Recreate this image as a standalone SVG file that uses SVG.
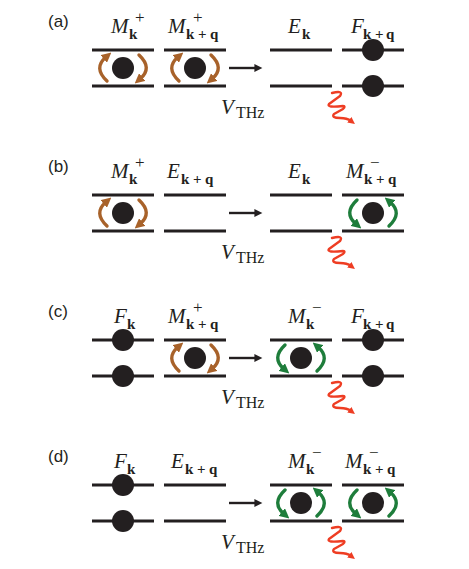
<svg xmlns="http://www.w3.org/2000/svg" xmlns:xlink="http://www.w3.org/1999/xlink" width="469" height="569" viewBox="0 0 469 569">
<style>
.bar{stroke:#231f20;stroke-width:3.2;fill:none}
.ball{fill:#231f20}
.lab{font-family:"Liberation Sans",Arial,sans-serif;font-size:17px;fill:#231f20}
.it{font-family:"Liberation Serif","Times New Roman",serif;font-style:italic;font-size:21px;fill:#231f20}
.bf{font-family:"Liberation Serif","Times New Roman",serif;font-weight:bold;font-size:15px;fill:#231f20}
.sp{font-family:"Liberation Serif","Times New Roman",serif;font-size:17px;fill:#231f20}
.rm{font-family:"Liberation Serif","Times New Roman",serif;font-size:16px;fill:#231f20}
.br{stroke:#a8622a;stroke-width:3.4;fill:none;stroke-linecap:round;marker-end:url(#hb)}
.gr{stroke:#1e7d3b;stroke-width:3.4;fill:none;stroke-linecap:round;marker-end:url(#hg)}
.arr{stroke:#231f20;stroke-width:2.4;fill:none;marker-end:url(#hk)}
.ph{stroke:#ee3d23;stroke-width:2.4;fill:none;stroke-linecap:round;stroke-linejoin:round;marker-end:url(#hr)}
</style>
<defs>
<marker id="hb" viewBox="0 0 10 10" refX="3" refY="5" markerWidth="10" markerHeight="10" markerUnits="userSpaceOnUse" orient="auto"><path d="M0,0 L10,5 L0,10 z" fill="#a8622a"/></marker>
<marker id="hg" viewBox="0 0 10 10" refX="3" refY="5" markerWidth="10" markerHeight="10" markerUnits="userSpaceOnUse" orient="auto"><path d="M0,0 L10,5 L0,10 z" fill="#1e7d3b"/></marker>
<marker id="hk" viewBox="0 0 10 10" refX="2" refY="5" markerWidth="9" markerHeight="8" markerUnits="userSpaceOnUse" orient="auto"><path d="M0,0 L10,5 L0,10 z" fill="#231f20"/></marker>
<marker id="hr" viewBox="0 0 10 10" refX="3" refY="5" markerWidth="7" markerHeight="7" markerUnits="userSpaceOnUse" orient="auto"><path d="M0,0 L10,5 L0,10 z" fill="#ee3d23"/></marker>
<g id="cw">
<circle class="ball" cx="0" cy="0" r="11"/>
<path class="br" d="M-16,13 Q-30,0 -17,-11"/>
<path class="br" d="M16,-13 Q30,0 17,11"/>
</g>
<g id="ccw">
<circle class="ball" cx="0" cy="0" r="11"/>
<path class="gr" d="M-16,-13 Q-30,0 -17,11"/>
<path class="gr" d="M16,13 Q30,0 17,-11"/>
</g>
<g id="bars"><line class="bar" x1="0" y1="0" x2="62" y2="0"/><line class="bar" x1="0" y1="36" x2="62" y2="36"/></g>
<g id="fill2"><circle class="ball" cx="31" cy="0" r="11"/><circle class="ball" cx="31" cy="36" r="11"/></g>
</defs>

<!-- panel (a) -->
<g id="panel-a">
<text class="lab" x="48" y="27">(a)</text>
<g id="a-M-k-plus"><use xlink:href="#bars" x="92" y="50"/><use xlink:href="#cw" x="123" y="68"/>
<text class="it" x="111" y="33">M</text><text class="bf" x="129" y="39">k</text><text class="sp" x="135" y="23">+</text></g>
<g id="a-M-kq-plus"><use xlink:href="#bars" x="164" y="50"/><use xlink:href="#cw" x="195" y="68"/>
<text class="it" x="168" y="33">M</text><text class="bf" x="186 198 210" y="39">k+q</text><text class="sp" x="193" y="23">+</text></g>
<g id="a-E-k"><use xlink:href="#bars" x="270" y="50"/>
<text class="it" x="288" y="33">E</text><text class="bf" x="302" y="39">k</text></g>
<g id="a-F-kq"><use xlink:href="#bars" x="342" y="50"/><use xlink:href="#fill2" x="342" y="50"/>
<text class="it" x="351" y="33">F</text><text class="bf" x="363 375 386" y="39">k+q</text></g>
<g id="a-V"><text class="it" x="221" y="114">V</text><text class="rm" x="236" y="118">THz</text></g>
</g>

<!-- panel (b) -->
<g id="panel-b" transform="translate(0,145)">
<text class="lab" x="48" y="27">(b)</text>
<g id="b-M-k-plus"><use xlink:href="#bars" x="92" y="50"/><use xlink:href="#cw" x="123" y="68"/>
<text class="it" x="111" y="33">M</text><text class="bf" x="129" y="39">k</text><text class="sp" x="135" y="23">+</text></g>
<g id="b-E-kq"><use xlink:href="#bars" x="164" y="50"/>
<text class="it" x="167" y="33">E</text><text class="bf" x="181 193 205" y="39">k+q</text></g>
<g id="b-E-k"><use xlink:href="#bars" x="270" y="50"/>
<text class="it" x="288" y="33">E</text><text class="bf" x="302" y="39">k</text></g>
<g id="b-M-kq-minus"><use xlink:href="#bars" x="342" y="50"/><use xlink:href="#ccw" x="373" y="68"/>
<text class="it" x="346" y="33">M</text><text class="bf" x="364 376 388" y="39">k+q</text><text class="sp" x="370" y="23">−</text></g>
<g id="b-V"><text class="it" x="221" y="114">V</text><text class="rm" x="236" y="118">THz</text></g>
</g>

<!-- panel (c) -->
<g id="panel-c" transform="translate(0,290)">
<text class="lab" x="48" y="27">(c)</text>
<g id="c-F-k"><use xlink:href="#bars" x="92" y="50"/><use xlink:href="#fill2" x="92" y="50"/>
<text class="it" x="114" y="33">F</text><text class="bf" x="127" y="39">k</text></g>
<g id="c-M-kq-plus"><use xlink:href="#bars" x="164" y="50"/><use xlink:href="#cw" x="195" y="68"/>
<text class="it" x="168" y="33">M</text><text class="bf" x="186 198 210" y="39">k+q</text><text class="sp" x="193" y="23">+</text></g>
<g id="c-M-k-minus"><use xlink:href="#bars" x="270" y="50"/><use xlink:href="#ccw" x="301" y="68"/>
<text class="it" x="288" y="33">M</text><text class="bf" x="306" y="39">k</text><text class="sp" x="312" y="23">−</text></g>
<g id="c-F-kq"><use xlink:href="#bars" x="342" y="50"/><use xlink:href="#fill2" x="342" y="50"/>
<text class="it" x="351" y="33">F</text><text class="bf" x="363 375 386" y="39">k+q</text></g>
<g id="c-V"><text class="it" x="221" y="114">V</text><text class="rm" x="236" y="118">THz</text></g>
</g>

<!-- panel (d) -->
<g id="panel-d" transform="translate(0,435)">
<text class="lab" x="48" y="27">(d)</text>
<g id="d-F-k"><use xlink:href="#bars" x="92" y="50"/><use xlink:href="#fill2" x="92" y="50"/>
<text class="it" x="114" y="33">F</text><text class="bf" x="127" y="39">k</text></g>
<g id="d-E-kq"><use xlink:href="#bars" x="164" y="50"/>
<text class="it" x="171" y="33">E</text><text class="bf" x="185 197 209" y="39">k+q</text></g>
<g id="d-M-k-minus"><use xlink:href="#bars" x="270" y="50"/><use xlink:href="#ccw" x="301" y="68"/>
<text class="it" x="288" y="33">M</text><text class="bf" x="306" y="39">k</text><text class="sp" x="312" y="23">−</text></g>
<g id="d-M-kq-minus"><use xlink:href="#bars" x="342" y="50"/><use xlink:href="#ccw" x="373" y="68"/>
<text class="it" x="345" y="33">M</text><text class="bf" x="363 375 387" y="39">k+q</text><text class="sp" x="369" y="23">−</text></g>
<g id="d-V"><text class="it" x="221" y="114">V</text><text class="rm" x="236" y="118">THz</text></g>
</g>

<!-- connectors -->
<g id="connectors">
<path class="arr" d="M229,68 H256"/>
<path class="arr" d="M229,213 H256"/>
<path class="arr" d="M229,358 H256"/>
<path class="arr" d="M229,503 H256"/>
<path class="ph" d="M332,93 Q344,90 340,96 L329,104 Q326,108 343,106 Q346,106 343,109 L334,114 Q331,118 340,118 Q347,118 351,121"/>
<path class="ph" d="M332,238 Q344,235 340,241 L329,249 Q326,253 343,251 Q346,251 343,254 L334,259 Q331,263 340,263 Q347,263 351,266"/>
<path class="ph" d="M332,383 Q344,380 340,386 L329,394 Q326,398 343,396 Q346,396 343,399 L334,404 Q331,408 340,408 Q347,408 351,411"/>
<path class="ph" d="M332,528 Q344,525 340,531 L329,539 Q326,543 343,541 Q346,541 343,544 L334,549 Q331,553 340,553 Q347,553 351,556"/>
</g>
</svg>
